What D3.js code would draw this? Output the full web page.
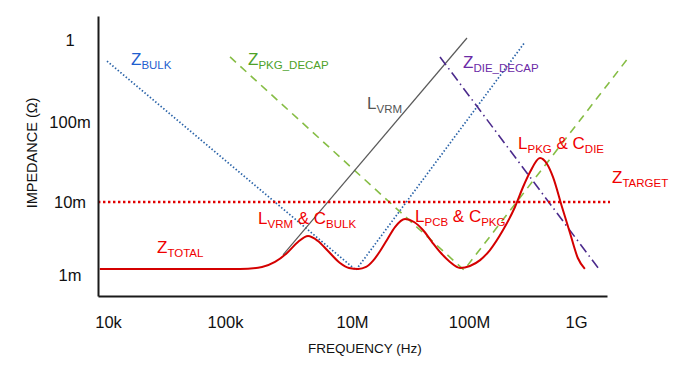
<!DOCTYPE html>
<html><head><meta charset="utf-8">
<script src="https://cdn.jsdelivr.net/npm/d3@7"></script>
<style>
body{margin:0;background:#fff}
svg{display:block}
text{font-family:"Liberation Sans",Arial,Helvetica,sans-serif}
</style>
</head><body>
<svg id="chart" width="690" height="365"></svg>
<script>
// ---- data ----
const xTickValues = [1e4, 1e5, 1e7, 1e8, 1e9];
const xTickLabels = ["10k", "100k", "10M", "100M", "1G"];
const yTickValues = [1, 0.1, 0.01, 0.001];
const yTickLabels = ["1", "100m", "10m", "1m"];

// Z_TOTAL (red solid curve)
const totalFreq = [8.5e3, 1.72e5, 3.83e5, 6.13e5, 9.47e5, 1.41e6, 2.03e6, 2.91e6, 4.19e6, 6.47e6,
  8.97e6, 1.13e7, 1.32e7, 1.51e7, 1.74e7, 1.99e7, 2.33e7, 2.84e7, 3.39e7, 4.04e7,
  4.83e7, 5.76e7, 6.88e7, 8.38e7, 1.02e8, 1.27e8, 1.57e8, 2.08e8, 2.69e8, 3.20e8,
  3.72e8, 4.61e8, 5.36e8, 6.10e8, 7.40e8, 8.79e8, 1.04e9, 1.21e9];
const totalZ = [1.21e-3, 1.21e-3, 1.29e-3, 1.51e-3, 2.00e-3, 2.83e-3, 3.42e-3, 2.92e-3, 2.13e-3, 1.46e-3,
  1.25e-3, 1.21e-3, 1.29e-3, 1.56e-3, 2.13e-3, 3.02e-3, 4.54e-3, 5.85e-3, 5.32e-3, 4.13e-3,
  2.83e-3, 2.00e-3, 1.51e-3, 1.25e-3, 1.33e-3, 1.60e-3, 2.20e-3, 4.13e-3, 8.54e-3, 1.54e-2,
  2.37e-2, 3.55e-2, 2.99e-2, 2.05e-2, 8.54e-3, 3.76e-3, 1.71e-3, 1.21e-3];

// Z_BULK (blue dotted V)
const bulkFreq = [9.8e3, 1.08e7, 3.34e8];
const bulkZ = [0.554, 1.17e-3, 0.945];
// Z_PKG_DECAP (green dashed V)
const pkgFreq = [1.20e5, 9.06e7, 3.13e9];
const pkgZ = [0.621, 1.17e-3, 0.621];
// L_VRM (gray solid)
const vrmFreq = [8.19e5, 9.61e7];
const vrmZ = [1.88e-3, 1.058];
// Z_DIE_DECAP (purple dash-dot)
const dieFreq = [5.65e7, 1.61e9];
const dieZ = [0.621, 1.25e-3];
// Z_TARGET (red dotted)
const targetFreq = [8.2e3, 2.08e9];
const targetZ = [0.01, 0.01];

// ---- scales ----
const svg = d3.select("#chart");
const x = d3.scaleLog()
  .domain([8.2e3, 1e4, 1e5, 1e7, 1e8, 1e9, 1.95e9])
  .range([98, 108, 225, 352, 469, 576, 607]);
const y = d3.scaleLog()
  .domain([5.15e-4, 1e-3, 1e-2, 1e-1, 1, 1.96])
  .range([296, 275, 202, 122, 40, 16]);

const line = d3.line().x(d => x(d[0])).y(d => y(d[1]));
const smooth = d3.line().x(d => x(d[0])).y(d => y(d[1])).curve(d3.curveMonotoneX);
const zip = (a, b) => a.map((v, i) => [v, b[i]]);

// ---- series ----
svg.append("path").attr("d", line(zip(bulkFreq, bulkZ)))
  .attr("fill", "none").attr("stroke", "#2a63a8").attr("stroke-width", 1.7)
  .attr("stroke-dasharray", "1.5,2");
svg.append("path").attr("d", line(zip(pkgFreq, pkgZ)))
  .attr("fill", "none").attr("stroke", "#86bd45").attr("stroke-width", 1.6)
  .attr("stroke-dasharray", "8,6");
svg.append("path").attr("d", line(zip(vrmFreq, vrmZ)))
  .attr("fill", "none").attr("stroke", "#5a5a5a").attr("stroke-width", 1.2);
svg.append("path").attr("d", line(zip(dieFreq, dieZ)))
  .attr("fill", "none").attr("stroke", "#4b2a8c").attr("stroke-width", 1.6)
  .attr("stroke-dasharray", "10,4,1.5,4");
svg.append("path").attr("d", line(zip(targetFreq, targetZ)))
  .attr("fill", "none").attr("stroke", "#e00000").attr("stroke-width", 2.4)
  .attr("stroke-dasharray", "2.4,2.6");
svg.append("path").attr("d", smooth(zip(totalFreq, totalZ)))
  .attr("fill", "none").attr("stroke", "#d40000").attr("stroke-width", 2);

// ---- axes ----
const gx = svg.append("g").attr("transform", "translate(0,296)")
  .call(d3.axisBottom(x).tickValues(xTickValues).tickFormat((d, i) => xTickLabels[i])
    .tickSize(0).tickSizeOuter(0));
gx.select(".domain").attr("stroke", "#1a1a1a").attr("stroke-width", 2);
gx.selectAll("text").attr("y", 20).attr("dy", "0.71em")
  .attr("font-size", "16.5px").attr("fill", "#111")
  .style("font-family", "'Liberation Sans', Arial, sans-serif");

const gy = svg.append("g").attr("transform", "translate(98,0)")
  .call(d3.axisLeft(y).tickValues(yTickValues).tickFormat((d, i) => yTickLabels[i])
    .tickSize(0).tickSizeOuter(0));
gy.select(".domain").attr("stroke", "#1a1a1a").attr("stroke-width", 2);
gy.selectAll("text").attr("x", -28).attr("text-anchor", "middle").attr("dy", "0.35em")
  .attr("font-size", "16.5px").attr("fill", "#111")
  .style("font-family", "'Liberation Sans', Arial, sans-serif");

svg.append("text").attr("x", 365).attr("y", 353).attr("text-anchor", "middle")
  .attr("font-size", "13.5px").attr("fill", "#111").text("FREQUENCY (Hz)");
svg.append("text").attr("transform", "translate(37,153) rotate(-90)").attr("text-anchor", "middle")
  .attr("font-size", "14.5px").attr("fill", "#111").text("IMPEDANCE (Ω)");

// ---- annotations ----
function label(px, py, parts, color) {
  const t = svg.append("text").attr("x", px).attr("y", py).attr("fill", color);
  let sub = false;
  parts.forEach((p, i) => {
    const isSub = i % 2 === 1;
    const ts = t.append("tspan").text(p).attr("font-size", isSub ? "11.5px" : "17px");
    if (isSub && !sub) ts.attr("dy", 4);
    if (!isSub && sub) ts.attr("dy", -4);
    sub = isSub;
  });
}
label(131, 65, ["Z", "BULK"], "#1f5fcf");
label(248, 65, ["Z", "PKG_DECAP"], "#4ea22a");
label(367, 109, ["L", "VRM"], "#555555");
label(463, 68, ["Z", "DIE_DECAP"], "#6b2aa6");
label(518, 149, ["L", "PKG", " & C", "DIE"], "#f00000");
label(612, 183, ["Z", "TARGET"], "#f00000");
label(258, 224, ["L", "VRM", " & C", "BULK"], "#f00000");
label(415, 222, ["L", "PCB", " & C", "PKG"], "#f00000");
label(157, 253, ["Z", "TOTAL"], "#f00000");
</script>
</body></html>
